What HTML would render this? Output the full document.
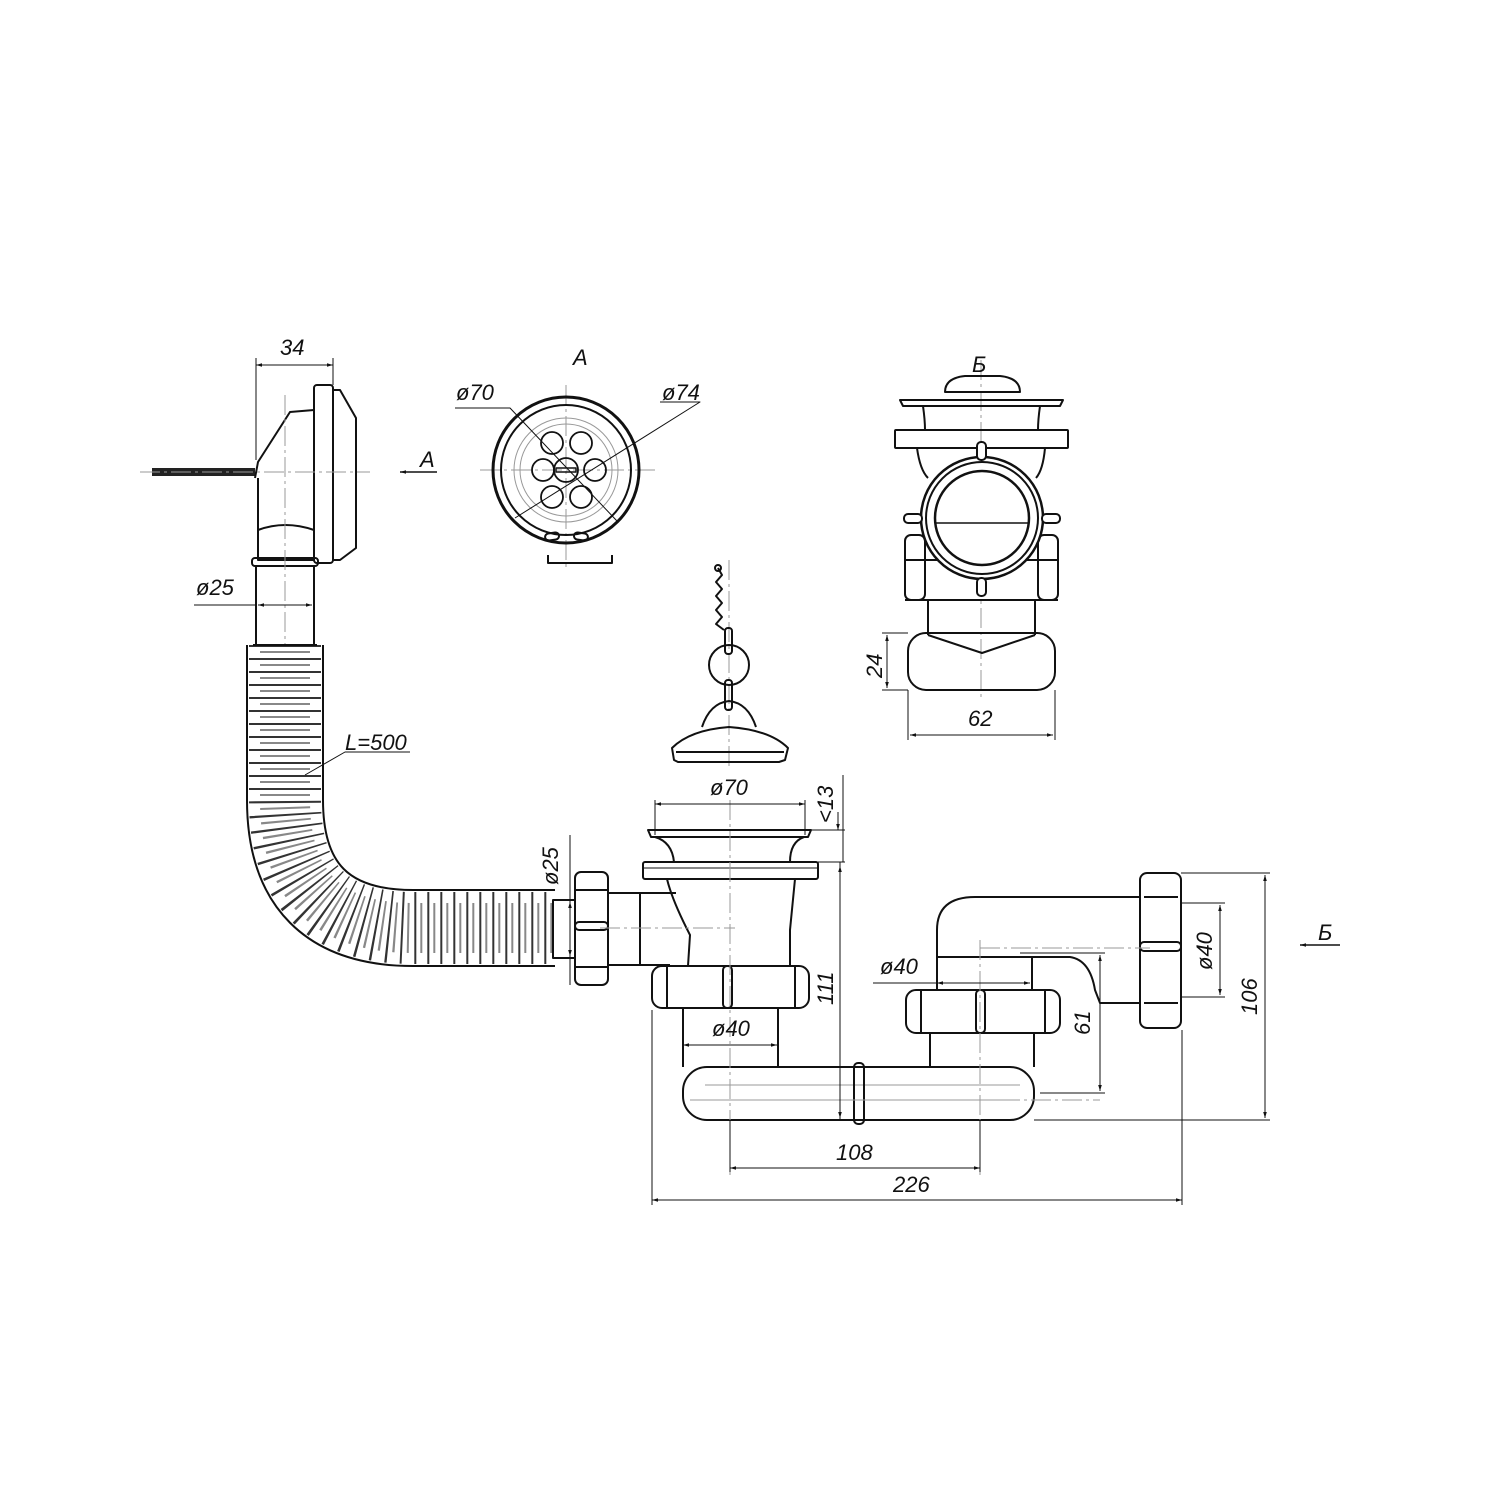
<!DOCTYPE html>
<html><head><meta charset="utf-8"><style>
html,body{margin:0;padding:0;background:#fff}
svg{display:block}
text{font-family:"Liberation Sans",sans-serif;font-style:italic;font-size:22px;fill:#111}
</style></head><body>
<svg width="1500" height="1500" viewBox="0 0 1500 1500" xmlns="http://www.w3.org/2000/svg">
<defs>
<marker id="ar" viewBox="0 0 10 10" refX="10" refY="5" markerWidth="12" markerHeight="6" orient="auto-start-reverse" markerUnits="userSpaceOnUse"><path d="M0,2 L10,5 L0,8z" fill="#111"/></marker>
</defs>
<g fill="none" stroke="#111" stroke-width="2" stroke-linejoin="round">

<rect x="152" y="468" width="103" height="8" fill="#222" stroke="none"/>
<path d="M255,478 L258,462 L290,412 L314,410 L314,560 L258,560 L258,530 Q285,520 314,530" />
<path d="M258,478 L258,560"/>
<rect x="314" y="385" width="19" height="178" rx="3"/>
<path d="M333,390 L340,390 L356,418 L356,548 L340,560 L333,560"/>
<rect x="252" y="558" width="66" height="8" rx="3"/>
<path d="M256,566 L256,645 M314,566 L314,645"/>
<g stroke="#999" stroke-width="1" stroke-dasharray="20 4 3 4"><path d="M285,395 L285,660 M140,472 L370,472"/></g>
<path d="M256,460 L256,358 M333,385 L333,358" stroke-width="1"/>
<path d="M256,365 L333,365" stroke-width="1" marker-start="url(#ar)" marker-end="url(#ar)"/>
<path d="M400,472 L437,472" stroke-width="1.5" marker-start="url(#ar)"/>

<path d="M285,645 L285,800 Q285,928 413,928 L555,928" stroke="#111" stroke-width="78"/>
<path d="M285,645 L285,800 Q285,928 413,928 L555,928" stroke="#fff" stroke-width="74"/>
<path d="M285,645 L285,800 Q285,928 413,928 L555,928" stroke="#333" stroke-width="72" stroke-dasharray="2 11"/>
<path d="M285,645 L285,800 Q285,928 413,928 L555,928" stroke="#888" stroke-width="50" stroke-dasharray="2 11" stroke-dashoffset="-6"/>
<path d="M253,645 L317,645"/>
<rect x="553" y="900" width="22" height="58"/>

<rect x="575" y="872" width="33" height="113" rx="6"/>
<path d="M575,890 L608,890 M575,967 L608,967"/>
<rect x="575" y="922" width="33" height="8" rx="4"/>
<path d="M608,893 L640,893 L640,965 L608,965 M640,893 L676,893 M640,965 L670,965"/>

<path d="M648,830 L811,830 L808,837 L651,837 Z"/>
<path d="M655,837 Q672,842 674,862 M804,837 Q790,842 790,862"/>
<rect x="643" y="862" width="175" height="17" rx="2"/>
<path d="M643,868 L818,868" stroke-width="1"/>
<path d="M667,879 Q672,900 690,935 L688,966 M795,879 L790,930 L790,966"/>
<rect x="652" y="966" width="157" height="42" rx="10"/>
<path d="M667,966 L667,1008 M795,966 L795,1008"/>
<rect x="723" y="966" width="9" height="42" rx="4"/>
<path d="M683,1008 L683,1067 M778,1008 L778,1067"/>
<rect x="683" y="1067" width="351" height="53" rx="24"/>
<path d="M705,1085 L1020,1085 M705,1100 L1020,1100" stroke="#999" stroke-width="1"/>
<rect x="854" y="1063" width="10" height="61" rx="4"/>
<path d="M930,1067 L930,1032 M1034,1067 L1034,1032"/>
<rect x="906" y="990" width="154" height="43" rx="10"/>
<path d="M921,990 L921,1033 M1045,990 L1045,1033"/>
<rect x="976" y="990" width="9" height="43" rx="4"/>
<path d="M937,990 L937,930 Q937,897 975,897 L1140,897"/>
<path d="M1032,990 L1032,957 L937,957"/>
<path d="M1032,957 L1070,957 Q1090,960 1095,990 L1100,1003 L1140,1003"/>
<rect x="1140" y="873" width="41" height="155" rx="7"/>
<path d="M1144,897 L1178,897 M1144,1003 L1178,1003"/>
<rect x="1140" y="942" width="41" height="9" rx="4"/>

<g stroke="#999" stroke-width="1" stroke-dasharray="20 4 3 4">
<path d="M730,800 L730,1175 M980,940 L980,1175 M690,1100 L1100,1100 M980,948 L1150,948 M600,928 L735,928"/>
<path d="M566,385 L566,570 M480,470 L655,470"/>
<path d="M981,360 L981,700"/>
<path d="M729,560 L729,770"/>
</g>

<g stroke-width="1">
<path d="M655,835 L655,800 M805,835 L805,800 M811,830 L845,830 M818,862 L845,862 M843,775 L843,862 M1034,1120 L1270,1120 M1181,873 L1270,873 M1181,903 L1225,903 M1181,997 L1225,997 M1040,1093 L1105,1093 M1020,953 L1105,953 M652,1010 L652,1205 M1182,1030 L1182,1205 M730,1120 L730,1172 M980,1120 L980,1172 M840,862 L840,1120 M570,835 L570,985"/>
<path d="M655,804 L805,804" marker-start="url(#ar)" marker-end="url(#ar)"/>
<path d="M838,812 L838,830" marker-end="url(#ar)"/>
<path d="M840,866 L840,1118" marker-start="url(#ar)" marker-end="url(#ar)"/>
<path d="M1265,875 L1265,1118" marker-start="url(#ar)" marker-end="url(#ar)"/>
<path d="M1220,905 L1220,995" marker-start="url(#ar)" marker-end="url(#ar)"/>
<path d="M1100,955 L1100,1091" marker-start="url(#ar)" marker-end="url(#ar)"/>
<path d="M730,1168 L980,1168" marker-start="url(#ar)" marker-end="url(#ar)"/>
<path d="M652,1200 L1182,1200" marker-start="url(#ar)" marker-end="url(#ar)"/>
<path d="M683,1045 L777,1045" marker-start="url(#ar)" marker-end="url(#ar)"/>
<path d="M873,983 L937,983"/>
<path d="M937,983 L1030,983" marker-start="url(#ar)" marker-end="url(#ar)"/>
<path d="M570,902 L570,956" marker-start="url(#ar)" marker-end="url(#ar)"/>
<path d="M1300,945 L1340,945" stroke-width="1.5" marker-start="url(#ar)"/>
<path d="M194,605 L256,605"/>
<path d="M258,605 L312,605" marker-start="url(#ar)" marker-end="url(#ar)"/>
<path d="M305,775 L345,752 L410,752"/>
</g>

<circle cx="566" cy="470" r="73" stroke-width="3"/>
<circle cx="566" cy="470" r="65"/>
<circle cx="566" cy="470" r="52" stroke="#999" stroke-width="1"/>
<circle cx="566" cy="470" r="46" stroke="#999" stroke-width="1"/>
<g stroke-width="1.8">
<circle cx="566" cy="470" r="12"/><circle cx="543" cy="470" r="11"/><circle cx="595" cy="470" r="11"/>
<circle cx="552" cy="443" r="11"/><circle cx="581" cy="443" r="11"/>
<circle cx="552" cy="497" r="11"/><circle cx="581" cy="497" r="11"/>
</g>
<path d="M556,468 L576,468 L576,472 L556,472 Z" stroke-width="1.5"/>
<rect x="545" y="533" width="14" height="7" rx="3.5" transform="rotate(-8 552 536)"/>
<rect x="574" y="533" width="14" height="7" rx="3.5" transform="rotate(8 581 536)"/>
<path d="M548,555 L548,563 L612,563 L612,555"/>
<g stroke-width="1"><path d="M455,408 L510,408 L617,521 M660,402 L700,402 L515,518"/></g>

<path d="M945,392 Q945,378 965,376 L1000,376 Q1020,378 1020,392 Z"/>
<path d="M900,400 L1063,400 L1060,406 L903,406 Z"/>
<path d="M923,406 Q925,420 925,430 M1040,406 Q1038,420 1038,430"/>
<rect x="895" y="430" width="173" height="18" rx="1"/>
<path d="M917,448 Q920,470 928,478 M1045,448 Q1043,470 1036,478"/>
<rect x="905" y="535" width="20" height="65" rx="6"/><rect x="1038" y="535" width="20" height="65" rx="6"/>
<path d="M905,560 L1058,560 M905,600 L1058,600"/>
<circle cx="982" cy="518" r="61" fill="#fff" stroke-width="2.5"/>
<circle cx="982" cy="518" r="56"/>
<circle cx="982" cy="518" r="47" stroke-width="2.5"/>
<path d="M935,523 L1029,523" stroke-width="1.5"/>
<rect x="977" y="442" width="9" height="18" rx="4" fill="#fff"/>
<rect x="977" y="578" width="9" height="18" rx="4" fill="#fff"/>
<rect x="904" y="514" width="18" height="9" rx="4" fill="#fff"/>
<rect x="1042" y="514" width="18" height="9" rx="4" fill="#fff"/>
<path d="M928,600 L928,635 M1035,600 L1035,635"/>
<path d="M928,635 L982,653 L1035,635"/>
<rect x="908" y="633" width="147" height="57" rx="18"/>
<g stroke-width="1">
<path d="M908,633 L882,633 M908,690 L882,690 M908,690 L908,740 M1055,690 L1055,740"/>
<path d="M887,635 L887,688" marker-start="url(#ar)" marker-end="url(#ar)"/>
<path d="M910,735 L1053,735" marker-start="url(#ar)" marker-end="url(#ar)"/>
</g>

<path d="M718,568 L722,575 L716,582 L722,589 L716,596 L722,603 L716,610 L722,617 L716,624 L724,630" stroke-width="2"/>
<circle cx="718" cy="568" r="3"/>
<rect x="725" y="628" width="7" height="26" rx="3"/>
<circle cx="729" cy="665" r="20"/>
<rect x="725" y="680" width="7" height="30" rx="3"/>
<path d="M702,727 Q710,703 729,701 Q748,703 756,727"/>
<path d="M672,748 Q690,730 729,727 Q770,730 788,748 L785,760 L779,762 L678,762 L674,760 Z"/>
<path d="M676,752 L784,752"/>
</g>

<text x="280" y="355">34</text>
<text x="573" y="365">A</text>
<text x="420" y="467">A</text>
<text x="456" y="400">ø70</text>
<text x="662" y="400">ø74</text>
<text x="972" y="372">Б</text>
<text x="196" y="595">ø25</text>
<text x="345" y="750">L=500</text>
<text x="710" y="795">ø70</text>
<text x="880" y="974">ø40</text>
<text x="712" y="1036">ø40</text>
<text x="836" y="1160">108</text>
<text x="893" y="1192">226</text>
<text x="1318" y="940">Б</text>
<text x="968" y="726">62</text>
<text transform="translate(882,678) rotate(-90)">24</text>
<text transform="translate(833,823) rotate(-90)">&lt;13</text>
<text transform="translate(833,1005) rotate(-90)">111</text>
<text transform="translate(558,885) rotate(-90)">ø25</text>
<text transform="translate(1090,1035) rotate(-90)">61</text>
<text transform="translate(1212,970) rotate(-90)">ø40</text>
<text transform="translate(1257,1015) rotate(-90)">106</text>
</svg>
</body></html>
